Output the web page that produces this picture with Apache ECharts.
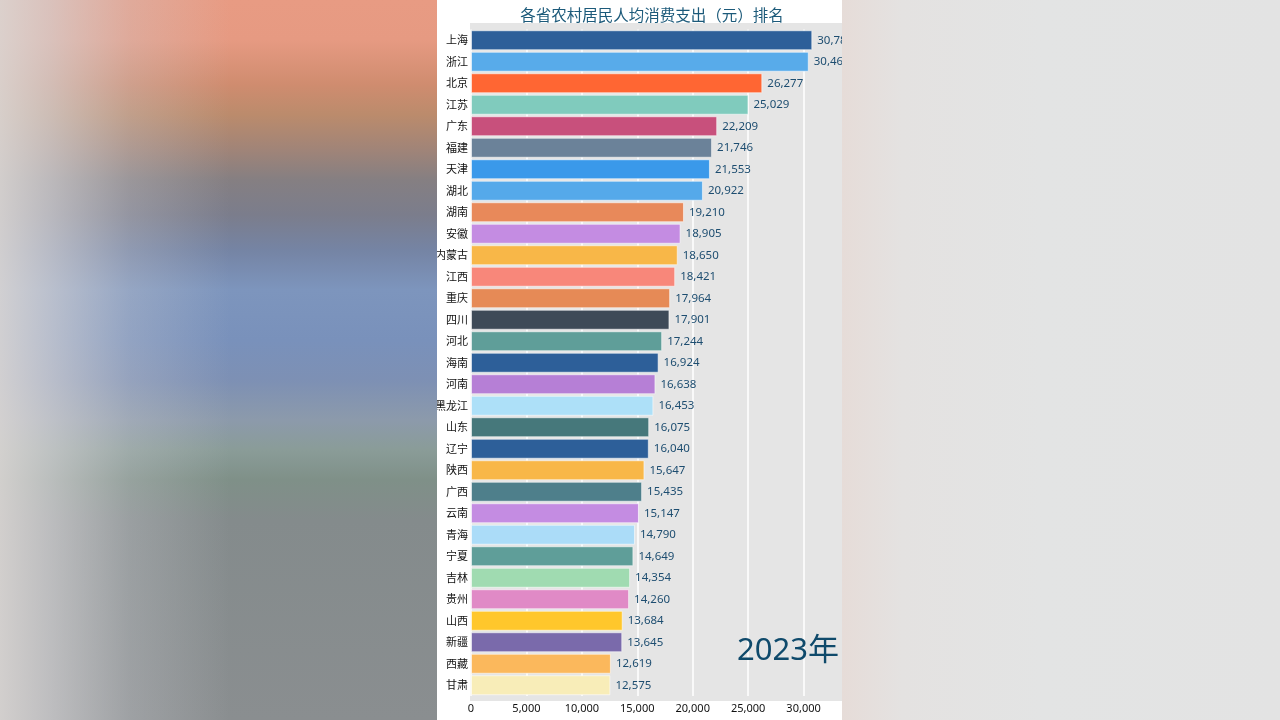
<!DOCTYPE html>
<html>
<head>
<meta charset="utf-8">
<script src="https://cdn.jsdelivr.net/npm/echarts@6/dist/echarts.min.js"></script>
<style>
  html,body{margin:0;padding:0;width:1280px;height:720px;overflow:hidden;background:#e4e4e4;}
  #bgLeft{position:absolute;left:0;top:0;width:437px;height:720px;
    background:
      linear-gradient(to right, rgba(218,214,212,0.9) 0px, rgba(212,210,212,0.7) 50px, rgba(205,205,210,0.3) 130px, rgba(200,200,205,0) 230px),
      linear-gradient(to bottom, #e89b83 0px, #e69a82 40px, #cf8c6f 85px, #bb8b6c 115px, #a08478 150px, #857f82 180px, #7b7d8c 215px, #7584a4 250px, #7d95bd 290px, #7991bb 340px, #7d90b4 380px, #8c9aab 420px, #8a9c98 450px, #7f9088 480px, #848b8c 520px, #8a8e90 720px);}
  #bgRight{position:absolute;left:842px;top:0;width:438px;height:720px;
    background:linear-gradient(to right,#e6dcd8 0px,#e4e2e1 60px,#e3e4e4 200px,#e3e3e3 438px);}
  #wrap{position:absolute;left:437px;top:0;width:405px;height:720px;overflow:hidden;background:#ffffff;}
  #chart{position:absolute;left:0;top:0;width:430px;height:720px;}
</style>
</head>
<body>
<div id="bgLeft"></div>
<div id="bgRight"></div>
<div id="wrap"><div id="chart"></div></div>
<script>
const provinces = ['上海','浙江','北京','江苏','广东','福建','天津','湖北','湖南','安徽','内蒙古','江西','重庆','四川','河北','海南','河南','黑龙江','山东','辽宁','陕西','广西','云南','青海','宁夏','吉林','贵州','山西','新疆','西藏','甘肃'];
const spending = [30786,30468,26277,25029,22209,21746,21553,20922,19210,18905,18650,18421,17964,17901,17244,16924,16638,16453,16075,16040,15647,15435,15147,14790,14649,14354,14260,13684,13645,12619,12575];
const barColors = ['#2d5f99','#58abea','#ff6633','#80cbbd','#c8507c','#6b8299','#3a99ea','#55a9ea','#e8895a','#c48ce2','#f8b748','#f8877a','#e68a56','#3e4a58','#5f9e99','#2d5f99','#b67fd6','#ade0f8','#46787b','#2d5f99','#f8b748','#4e7f8b','#c48ce2','#abdcf8','#5f9e99','#a0dbb1','#e08ac6','#ffc72c','#7a6aab','#fbb85c','#f8edb8'];
const xTicks = {min: 0, max: 35000, interval: 5000};
const yearLabel = '2023年';
const titleText = '各省农村居民人均消费支出（元）排名';

const chart = echarts.init(document.getElementById('chart'), null, {renderer: 'canvas'});
const numFont = "'Noto Sans','Noto Sans CJK SC',sans-serif";
const cjkFont = "'Noto Sans CJK SC','Noto Sans',sans-serif";

chart.setOption({
  animation: false,
  backgroundColor: '#ffffff',
  title: {
    text: titleText,
    left: 'center',
    top: 2,
    textStyle: {fontSize: 15.5, fontWeight: 'normal', color: '#1c5a7a', fontFamily: cjkFont}
  },
  graphic: [
    {type: 'rect', z: -10, zlevel: 0, silent: true,
     shape: {x: 33, y: 23, width: 400, height: 678},
     style: {fill: '#e5e5e5'}},
    {type: 'text', right: 28, top: 636, z: 100,
     style: {text: yearLabel, fontSize: 31, fill: '#0f4a6b', fontFamily: numFont}}
  ],
  grid: {left: 34, right: 8, top: 29.5, bottom: 24, containLabel: false, outerBoundsMode: 'none'},
  xAxis: {
    type: 'value',
    min: xTicks.min, max: xTicks.max, interval: xTicks.interval,
    axisLine: {show: false}, axisTick: {show: false},
    splitLine: {show: true, lineStyle: {color: '#ffffff', width: 1.5}},
    axisLabel: {
      color: '#111', fontSize: 11, margin: 7, fontFamily: numFont, showMaxLabel: false,
      formatter: v => v.toLocaleString('en-US')
    }
  },
  yAxis: {
    type: 'category',
    data: provinces,
    inverse: true,
    axisLine: {show: false}, axisTick: {show: false},
    axisLabel: {color: '#111', fontSize: 11, margin: 3, fontFamily: cjkFont, interval: 0}
  },
  series: [{
    type: 'bar',
    data: spending.map((v, i) => ({value: v, itemStyle: {color: barColors[i]}})),
    barCategoryGap: '7%',
    itemStyle: {borderColor: 'rgba(255,255,255,0.55)', borderWidth: 1},
    label: {
      show: true, position: 'right', distance: 5,
      color: '#1d4d70', fontSize: 11.5, fontFamily: numFont,
      formatter: p => p.value.toLocaleString('en-US')
    }
  }]
});
</script>
</body>
</html>
